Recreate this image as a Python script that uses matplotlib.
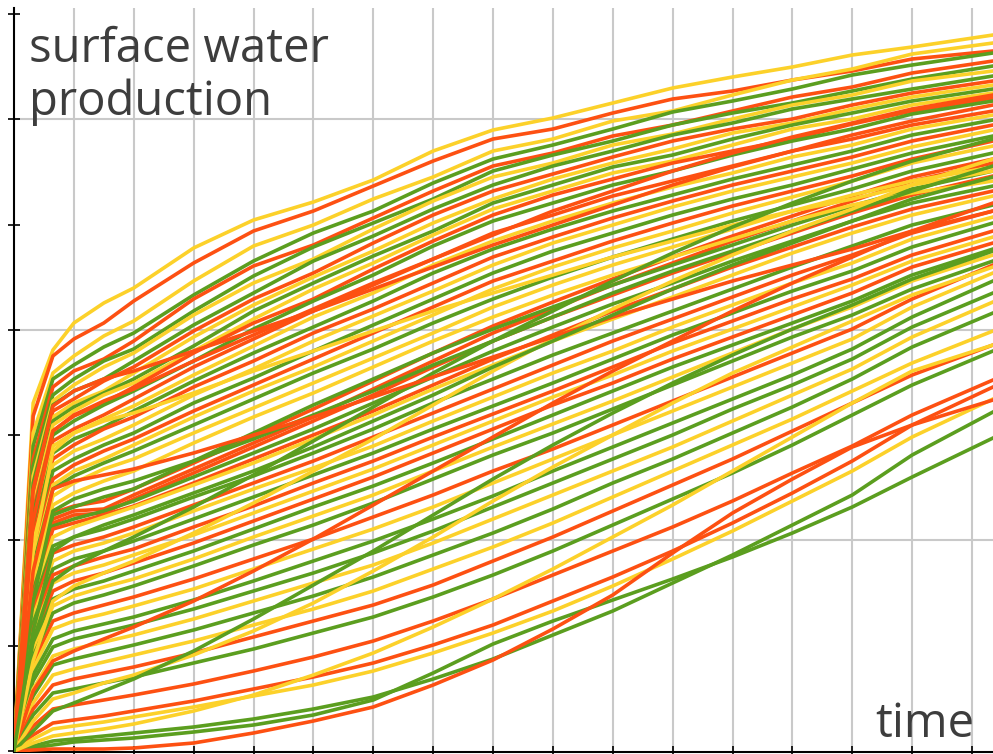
import matplotlib
matplotlib.use("Agg")
import matplotlib.pyplot as plt

# sample times (grid spacing = 1 time unit)
t = [0, 0.32, 0.65, 1, 1.5, 2, 3, 4, 5, 6, 7, 8, 9, 10, 11, 12, 13, 14, 15, 16.35]

# cumulative surface water production per realisation (arbitrary units)
top_runs = [
    ("Y", [0, 348, 401, 428, 448, 463, 503, 531, 549, 571, 600, 621, 633, 648, 663, 674, 684, 696, 704, 716]),
    ("R", [0, 335, 395, 412, 428, 450, 488, 520, 540, 565, 590, 612, 622, 638, 652, 660, 671, 680, 692, 700]),
    ("Y", [0, 318, 378, 395, 415, 430, 470, 505, 526, 552, 574, 600, 612, 630, 640, 656, 671, 682, 697, 708]),
    ("G", [0, 305, 372, 386, 404, 418, 456, 490, 518, 540, 568, 592, 606, 622, 639, 650, 662, 676, 686, 698]),
    ("R", [0, 292, 364, 380, 392, 410, 452, 485, 506, 533, 560, 585, 598, 615, 626, 640, 654, 664, 678, 690]),
    ("G", [0, 285, 356, 372, 390, 402, 440, 475, 504, 528, 552, 580, 596, 610, 626, 638, 648, 660, 672, 685]),
    ("Y", [0, 275, 350, 366, 384, 398, 436, 468, 492, 522, 550, 574, 588, 606, 617, 632, 646, 656, 670, 680]),
    ("G", [0, 268, 346, 360, 372, 390, 426, 458, 490, 515, 542, 566, 585, 600, 616, 628, 642, 652, 662, 675]),
    ("R", [0, 262, 340, 352, 370, 384, 420, 452, 478, 508, 536, 560, 577, 594, 610, 622, 632, 646, 658, 670]),
    ("Y", [0, 255, 334, 348, 360, 378, 414, 446, 474, 500, 528, 552, 572, 588, 602, 618, 628, 642, 654, 666]),
    ("G", [0, 250, 330, 344, 358, 372, 405, 440, 468, 495, 520, 548, 566, 584, 596, 612, 626, 638, 650, 662]),
    ("Y", [0, 246, 326, 340, 356, 368, 400, 432, 462, 488, 516, 542, 560, 578, 590, 606, 622, 632, 646, 658]),
    ("R", [0, 240, 320, 335, 348, 364, 398, 428, 452, 482, 510, 536, 556, 572, 588, 600, 612, 627, 640, 653]),
    ("G", [0, 236, 316, 330, 346, 360, 390, 422, 450, 476, 505, 530, 548, 566, 580, 596, 610, 622, 637, 650]),
]

upper_runs = [
    ("R", [0, 230, 310, 322, 336, 352, 384, 412, 440, 466, 492, 518, 536, 555, 570, 585, 600, 612, 626, 640]),
    ("Y", [0, 225, 305, 318, 332, 345, 376, 405, 434, 458, 486, 510, 530, 548, 564, 578, 594, 606, 622, 636]),
    ("G", [0, 220, 298, 312, 324, 340, 370, 398, 424, 450, 478, 502, 522, 540, 556, 572, 586, 600, 616, 631]),
    ("R", [0, 214, 292, 306, 322, 334, 364, 390, 418, 442, 468, 494, 514, 533, 550, 566, 580, 594, 610, 626]),
    ("Y", [0, 208, 286, 300, 312, 326, 356, 382, 410, 435, 460, 486, 508, 526, 544, 560, 574, 588, 604, 621]),
    ("G", [0, 200, 280, 292, 306, 318, 348, 373, 400, 426, 452, 478, 500, 518, 536, 552, 566, 582, 598, 615]),
    ("R", [0, 195, 272, 286, 300, 312, 340, 366, 392, 418, 444, 470, 490, 510, 528, 545, 560, 575, 592, 610]),
    ("Y", [0, 190, 266, 280, 292, 306, 334, 360, 384, 410, 436, 462, 484, 503, 520, 538, 554, 570, 588, 605]),
]

mid_runs = [
    ("G", [0, 185, 262, 275, 288, 300, 326, 352, 378, 402, 428, 452, 474, 494, 512, 530, 546, 562, 580, 598]),
    ("R", [0, 176, 238, 245, 250, 262, 288, 315, 342, 370, 398, 425, 449, 472, 494, 515, 535, 555, 574, 592]),
    ("R", [0, 172, 232, 240, 242, 256, 282, 308, 334, 362, 390, 418, 442, 466, 488, 510, 530, 550, 570, 588]),
    ("Y", [0, 180, 255, 268, 282, 292, 318, 343, 368, 393, 418, 444, 466, 486, 504, 522, 540, 556, 570, 584]),
    ("G", [0, 168, 236, 244, 254, 262, 290, 318, 346, 372, 398, 422, 444, 466, 486, 506, 526, 545, 562, 580]),
    ("R", [0, 165, 228, 236, 238, 252, 278, 304, 330, 356, 384, 410, 434, 456, 478, 498, 518, 538, 556, 575]),
    ("Y", [0, 170, 246, 258, 270, 280, 308, 334, 358, 384, 410, 434, 456, 476, 494, 512, 530, 546, 558, 570]),
    ("G", [0, 160, 225, 232, 240, 250, 274, 298, 322, 348, 374, 400, 424, 447, 468, 490, 510, 530, 548, 565]),
    ("R", [0, 155, 222, 228, 236, 245, 268, 292, 316, 340, 366, 392, 416, 440, 462, 484, 504, 524, 542, 560]),
    ("Y", [0, 150, 214, 224, 234, 244, 266, 288, 312, 336, 362, 386, 410, 432, 454, 476, 498, 518, 536, 555]),
    ("G", [0, 145, 205, 214, 222, 232, 254, 275, 298, 322, 348, 372, 396, 418, 440, 462, 484, 505, 526, 546]),
    ("R", [0, 140, 198, 206, 214, 224, 246, 268, 290, 314, 338, 362, 386, 410, 432, 454, 476, 496, 518, 540]),
    ("Y", [0, 134, 190, 200, 208, 218, 240, 262, 283, 305, 330, 354, 378, 400, 424, 446, 468, 488, 512, 534]),
    ("G", [0, 128, 182, 192, 200, 210, 232, 254, 276, 298, 322, 345, 368, 392, 416, 438, 460, 480, 504, 528]),
    ("R", [0, 122, 176, 185, 194, 202, 224, 245, 268, 290, 314, 337, 360, 384, 408, 430, 452, 472, 496, 520]),
    ("Y", [0, 118, 168, 178, 186, 196, 216, 238, 260, 282, 306, 330, 354, 376, 400, 422, 444, 466, 490, 514]),
    ("R", [0, 112, 160, 170, 178, 188, 208, 230, 252, 274, 298, 322, 346, 368, 392, 414, 436, 458, 484, 508]),
    ("G", [0, 106, 152, 162, 170, 180, 200, 222, 244, 265, 288, 312, 336, 360, 384, 406, 428, 450, 476, 502]),
    ("Y", [0, 100, 145, 155, 164, 172, 192, 214, 235, 256, 280, 304, 327, 350, 374, 398, 422, 444, 470, 496]),
    ("G", [0, 95, 138, 148, 156, 165, 185, 206, 226, 248, 272, 296, 318, 342, 366, 390, 414, 436, 462, 490]),
]

# runs that start high and flatten, or start low and climb fast
crossing_runs = [
    ("Y", [0, 200, 300, 318, 330, 338, 358, 380, 400, 420, 440, 458, 476, 494, 510, 526, 540, 552, 566, 580]),
    ("R", [0, 60, 90, 100, 112, 124, 150, 180, 212, 246, 280, 314, 348, 380, 410, 440, 468, 494, 520, 548]),
    ("G", [0, 150, 240, 252, 262, 270, 290, 312, 336, 360, 386, 410, 434, 458, 480, 500, 520, 540, 560, 585]),
    ("Y", [0, 30, 52, 58, 68, 76, 96, 120, 148, 180, 214, 250, 284, 316, 348, 378, 404, 430, 456, 484]),
    ("R", [0, 260, 345, 360, 372, 380, 400, 420, 440, 462, 484, 506, 526, 546, 566, 584, 600, 616, 630, 646]),
    ("G", [0, 110, 170, 185, 200, 214, 244, 276, 310, 344, 378, 410, 440, 470, 498, 524, 548, 570, 590, 612]),
    ("Y", [0, 90, 150, 165, 178, 190, 218, 248, 280, 312, 346, 380, 412, 442, 470, 496, 520, 542, 566, 592]),
    ("R", [0, 180, 262, 270, 276, 282, 298, 316, 334, 354, 374, 394, 414, 434, 452, 470, 486, 502, 520, 540]),
    ("G", [0, 20, 40, 48, 60, 72, 100, 132, 166, 200, 236, 272, 306, 338, 368, 396, 422, 446, 472, 500]),
    ("Y", [0, 8, 15, 18, 22, 27, 40, 56, 76, 98, 124, 152, 182, 214, 246, 280, 314, 348, 380, 406]),
    ("R", [0, 230, 320, 336, 350, 362, 390, 416, 442, 468, 492, 516, 540, 560, 580, 598, 614, 628, 642, 656]),
    ("G", [0, 120, 200, 214, 226, 236, 258, 280, 304, 330, 356, 384, 410, 436, 462, 486, 508, 530, 552, 574]),
]

low_runs = [
    ("R", [0, 88, 130, 138, 146, 154, 172, 192, 212, 234, 256, 280, 302, 326, 350, 374, 398, 422, 452, 486]),
    ("Y", [0, 82, 122, 130, 137, 145, 162, 182, 202, 222, 244, 268, 292, 316, 340, 364, 388, 412, 444, 478]),
    ("G", [0, 76, 112, 120, 127, 134, 151, 170, 190, 210, 232, 255, 280, 304, 328, 352, 376, 402, 434, 470]),
    ("G", [0, 70, 104, 112, 119, 126, 142, 160, 178, 198, 220, 244, 268, 292, 316, 342, 366, 392, 424, 458]),
    ("Y", [0, 62, 95, 102, 109, 116, 132, 150, 168, 186, 208, 232, 256, 280, 304, 330, 356, 382, 414, 449]),
    ("G", [0, 55, 86, 92, 99, 106, 121, 138, 155, 174, 196, 218, 242, 268, 292, 318, 344, 372, 404, 438]),
    ("Y", [0, 48, 76, 82, 89, 96, 110, 126, 142, 160, 182, 204, 228, 254, 280, 306, 332, 360, 388, 420]),
    ("R", [0, 42, 66, 72, 78, 84, 98, 114, 130, 146, 166, 190, 214, 240, 266, 292, 320, 348, 376, 406]),
    ("G", [0, 36, 58, 62, 68, 74, 88, 102, 118, 134, 154, 176, 200, 226, 252, 278, 306, 336, 366, 400]),
    ("R", [0, 25, 42, 46, 51, 56, 67, 80, 94, 110, 130, 152, 176, 200, 224, 250, 278, 305, 336, 371]),
    ("R", [0, 16, 28, 31, 35, 40, 50, 62, 74, 88, 106, 126, 150, 174, 200, 228, 258, 290, 326, 364]),
    ("Y", [0, 12, 22, 25, 29, 34, 44, 55, 66, 80, 98, 118, 140, 165, 192, 220, 250, 280, 314, 352]),
    ("G", [0, 5, 10, 12, 15, 18, 24, 32, 42, 54, 72, 92, 116, 140, 168, 196, 226, 256, 296, 339]),
    ("G", [0, 3, 6, 9, 11, 13, 19, 26, 36, 51, 78, 107, 130, 151, 172, 194, 218, 244, 274, 313]),
    ("R", [0, 1, 2, 2, 2, 3, 8, 18, 30, 44, 66, 91, 122, 156, 198, 238, 272, 304, 326, 351]),
]

palette = {"G": "#5b9e1f", "R": "#fd5012", "Y": "#fcd12a"}

fig = plt.figure(figsize=(9.93, 7.54), dpi=100)
ax = fig.add_axes([14 / 993, 2 / 754, 979 / 993, 744 / 754])

for group in (top_runs, upper_runs, low_runs, mid_runs, crossing_runs):
    for c, v in group:
        ax.plot(t, v, color=palette[c], lw=2.6, solid_joinstyle="round", zorder=3)

ax.set_xlim(0, 16.35)
ax.set_ylim(-1, 743)
step = 737 / 7
ax.set_yticks([step * k for k in range(8)])
ax.set_xticks(range(1, 17))
ax.set_yticklabels([])
ax.set_xticklabels([])
ax.tick_params(direction="inout", length=8, width=1.2, color="black")
ax.grid(axis="x", color="#c9c9c9", lw=1.5)
for k in (2, 4, 6):
    ax.axhline(step * k, color="#c9c9c9", lw=1.5, zorder=1)
ax.spines["top"].set_visible(False)
ax.spines["right"].set_visible(False)
ax.spines["left"].set_linewidth(1.5)
ax.spines["bottom"].set_linewidth(1.5)

txt = dict(family="Open Sans", fontsize=34, color="#3d3d3d", va="baseline")
fig.text(29 / 993, 1 - 62 / 754, "surface water", ha="left", **txt)
fig.text(29 / 993, 1 - 115 / 754, "production", ha="left", **txt)
fig.text(974 / 993, 1 - 737 / 754, "time", ha="right", **txt)

fig.savefig("out.png", dpi=100)
